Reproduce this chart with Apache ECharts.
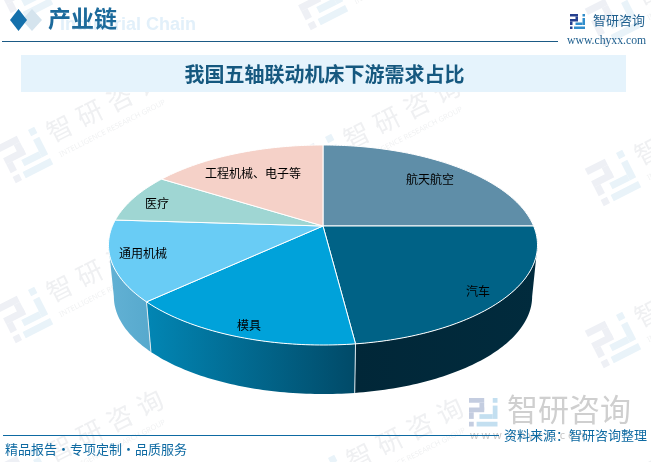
<!DOCTYPE html>
<html>
<head>
<meta charset="utf-8">
<style>html,body{margin:0;padding:0;background:#fff}#chart{width:651px;height:462px}</style>
<script src="https://cdn.jsdelivr.net/npm/echarts@6/dist/echarts.min.js"></script>
</head>
<body>
<div id="chart"></div>
<script>
var categories = ['航天航空', '汽车', '模具', '通用机械', '医疗', '工程机械、电子等'];
var shares = [25, 23, 15, 13, 8, 16];
var topColors = ['#5f8ea8', '#006286', '#00a2da', '#69ccf5', '#9fd6d3', '#f5d1c8'];
var sideColors = [
	['#5f8ea8', '#5f8ea8'], ['#012738', '#012b3d'], ['#0286b4', '#014a68'],
	['#62b1d4', '#57a9cd'], ['#9fd6d3', '#9fd6d3'], ['#f5d1c8', '#f5d1c8']
];
// 标签中心位置
var labelCenters = [[430, 179], [478, 291], [249, 325], [143, 253], [157, 203], [253, 173]];

var chart = echarts.init(document.getElementById('chart'));

// 透视圆饼参数
var cx = 323, cy = 226, A = 210.6, B = 96.4, k = 0.19;
var depth = 52, shrink = 0.975;
var total = shares.reduce(function (a, b) { return a + b; }, 0);

function point(deg, lower) {
	var t = deg * Math.PI / 180, u = Math.sin(t), v = Math.cos(t), w = 1 + k * v;
	var s = lower ? shrink : 1;
	return [cx + s * A * u / w, cy + (lower ? depth : 0) - s * B * v / w];
}
function startAngle(i) {
	var sum = 0;
	for (var n = 0; n < i; n++) sum += shares[n];
	return sum / total * 360;
}
function arc(a, b, lower) {
	var pts = [], n = Math.max(2, Math.ceil(Math.abs(b - a)));
	for (var i = 0; i <= n; i++) pts.push(point(a + (b - a) * i / n, lower));
	return pts;
}

function renderSide(params, api) {
	var i = params.dataIndex;
	var a = Math.max(startAngle(i), 101), b = Math.min(startAngle(i) + api.value(0) / total * 360, 259);
	if (b <= a) return { type: 'group', children: [] };
	var c = sideColors[i];
	var children = [{
		type: 'polygon',
		shape: { points: arc(a, b, false).concat(arc(b, a, true)) },
		style: {
			fill: { type: 'linear', x: 0, y: 0, x2: 1, y2: 0, colorStops: [{ offset: 0, color: c[0] }, { offset: 1, color: c[1] }] }
		}
	}];
	if (a > 101) {
		var p = point(a, false), q = point(a, true);
		children.push({ type: 'line', shape: { x1: p[0], y1: p[1], x2: q[0], y2: q[1] }, style: { stroke: '#dfe9ee', lineWidth: 1 } });
	}
	return { type: 'group', children: children };
}

function renderTop(params, api) {
	var i = params.dataIndex;
	var a = startAngle(i), b = a + api.value(0) / total * 360;
	return {
		type: 'group',
		children: [{
			type: 'polygon',
			shape: { points: [[cx, cy]].concat(arc(a, b, false)) },
			style: { fill: topColors[i], stroke: '#fff', lineWidth: 1, lineJoin: 'round' }
		}, {
			type: 'text',
			z2: 10,
			style: {
				text: categories[i], x: labelCenters[i][0], y: labelCenters[i][1],
				align: 'center', verticalAlign: 'middle', fill: '#000',
				font: '12px "Noto Sans CJK SC"'
			}
		}]
	};
}

// 公司标志，15x15 网格
function logo(x, y, s, c1, c2) {
	function bar(rx, ry, w, h, c) {
		return { type: 'rect', shape: { x: rx, y: ry, width: w, height: h }, style: { fill: c } };
	}
	return {
		type: 'group', x: x, y: y, scaleX: s, scaleY: s, silent: true,
		children: [
			bar(0, 0, 8, 2.5, c1), bar(5.5, 2.5, 2.5, 4, c1), bar(0, 5, 8, 2.5, c1),
			bar(0, 7.5, 2.5, 3.5, c1), bar(0, 12.5, 2.5, 2.5, c1),
			bar(12.5, 0, 2.5, 2.5, c2), bar(12.5, 4, 2.5, 7, c2), bar(5.5, 8.5, 7, 2.5, c2),
			bar(4, 12.5, 11, 2.5, c2)
		]
	};
}

// 水印
var wmMarks = [[25, -5], [25, 155], [25, 315], [25, 475], [320, 2], [322, 162], [325, 322], [325, 483], [613, 18], [613, 178], [613, 340], [613, 500]];
var wmChars = ['智', '研', '咨', '询'];
function watermark(p) {
	var children = [logo(-21, -21, 2.8, '#eef0f5', '#e9f3f9')];
	wmChars.forEach(function (ch, i) {
		children.push({
			type: 'text', x: 43 + i * 33.6, y: -8,
			style: { text: ch, align: 'center', verticalAlign: 'middle', fill: '#eff0f2', font: '26px "Noto Sans CJK SC"' }
		});
	});
	children.push({
		type: 'text', x: 31, y: 16,
		style: { text: 'INTELLIGENCE RESEARCH GROUP', verticalAlign: 'middle', fill: '#f1f2f3', font: '7.5px "Noto Sans"' }
	});
	return { type: 'group', x: p[0], y: p[1], rotation: 0.47, silent: true, children: children };
}

var headerGraphics = [
	{ type: 'polygon', shape: { points: [[22, 20], [32, 9], [42, 20], [32, 31]] }, style: { fill: '#d5e4ee' } },
	{ type: 'polygon', shape: { points: [[10, 20], [18.5, 9], [27, 20], [18.5, 31]] }, style: { fill: '#1570ab' } },
	{ type: 'text', x: 60, y: 16, style: { text: 'Industrial Chain', fill: '#e2f0fa', font: 'bold 18px "Liberation Sans"' } },
	{ type: 'text', x: 48, y: 7, style: { text: '产业链', fill: '#1c6a9b', font: 'bold 23px "Noto Sans CJK SC"' } },
	{ type: 'rect', shape: { x: 2, y: 41, width: 556, height: 1 }, style: { fill: '#1b5a85' } },
	logo(570, 14, 1, '#25408f', '#2f8ccb'),
	{ type: 'text', x: 593, y: 14, style: { text: '智研咨询', fill: '#1f5f8e', font: '13px "Noto Sans CJK SC"' } },
	{ type: 'text', x: 567, y: 35, style: { text: 'www.chyxx.com', fill: '#1f5f8e', font: '11.7px "Liberation Serif"' } },
	{ type: 'rect', shape: { x: 21, y: 55, width: 605, height: 37 }, style: { fill: '#e5f3fc' } },
	{ type: 'text', x: 324.5, y: 74, style: { text: '我国五轴联动机床下游需求占比', align: 'center', verticalAlign: 'middle', fill: '#15587f', font: 'bold 20px "Noto Sans CJK SC"' } },
	logo(469, 398, 1.9, '#c4cde0', '#c3dff0'),
	{ type: 'text', x: 507, y: 394, style: { text: '智研咨询', fill: '#cfcfcf', font: '31px "Noto Sans CJK SC"' } },
	{ type: 'text', x: 470, y: 430, style: { text: 'w w w . c h y x x . c o m', fill: '#c8c8c8', font: '11px "Noto Sans"' } },
	{ type: 'rect', shape: { x: 3, y: 435, width: 496, height: 1 }, style: { fill: '#0e6aa2' } },
	{ type: 'text', x: 5, y: 443, style: { text: '精品报告·专项定制·品质服务', fill: '#0e6aa2', font: '13px "Noto Sans CJK SC"' } },
	{ type: 'text', x: 647, y: 429, style: { text: '资料来源：智研咨询整理', align: 'right', fill: '#0e6aa2', font: '13px "Noto Sans CJK SC"' } }
];

chart.setOption({
	animation: false,
	graphic: wmMarks.map(watermark).concat(headerGraphics),
	series: [
		{ type: 'custom', coordinateSystem: 'none', z: 2, silent: true, renderItem: renderSide, data: shares },
		{ type: 'custom', coordinateSystem: 'none', z: 3, silent: true, renderItem: renderTop, data: shares }
	]
});
</script>
</body>
</html>
